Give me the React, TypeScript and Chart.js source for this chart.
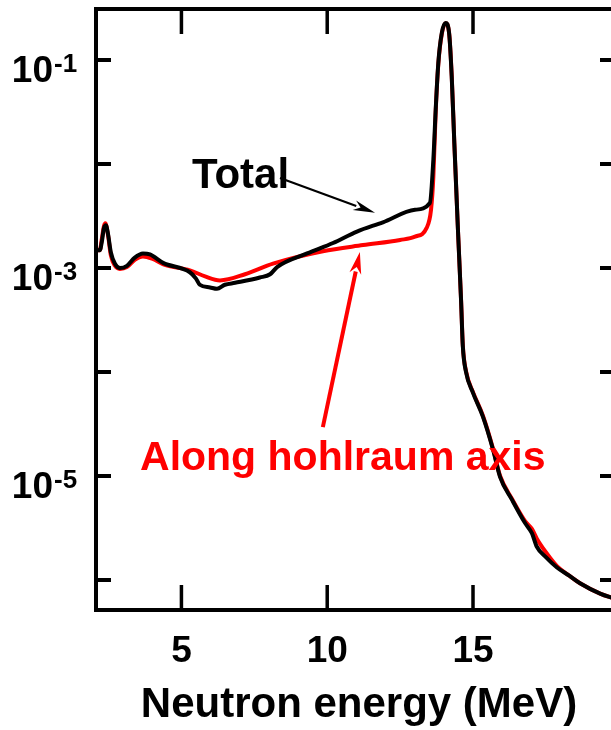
import React, { useEffect, useRef } from "react";
import { Chart, registerables } from "chart.js";

Chart.register(...registerables);

// Neutron energy (MeV) and spectrum values
const energyTotal = [
  2.07, 2.2, 2.27, 2.34, 2.41, 2.48, 2.58, 2.72, 2.89, 3.13, 3.4, 3.68, 3.92, 4.37,
  5.29, 5.5, 5.63, 5.98, 6.22, 6.49, 6.84, 7.69, 8.04, 8.28, 9.31, 10.2, 11.02, 11.91,
  13.01, 13.52, 13.64, 13.72, 13.81, 13.93, 14.06, 14.18, 14.27, 14.36, 14.48, 14.59,
  14.65, 14.76, 15.0, 15.34, 15.69, 15.93, 16.34, 16.78, 17.02, 17.19, 17.5, 17.88, 18.3,
  18.67, 19.36, 19.87,
];
const fluxTotal = [
  1.48e-3, 1.48e-3, 1.78e-3, 2.4e-3, 2.57e-3, 2.14e-3, 1.41e-3, 1.1e-3, 1.0e-3, 1.05e-3,
  1.26e-3, 1.38e-3, 1.35e-3, 1.12e-3, 9.1e-4, 7.9e-4, 6.9e-4, 6.5e-4, 6.3e-4, 6.9e-4,
  7.2e-4, 8.1e-4, 8.7e-4, 1.02e-3, 1.38e-3, 1.74e-3, 2.24e-3, 2.75e-3, 3.63e-3, 4.22e-3,
  1.1e-2, 3.31e-2, 9.33e-2, 0.182, 0.227, 0.182, 6.92e-2, 1.58e-2, 2.45e-3, 4.9e-4,
  1.78e-4, 1.0e-4, 6.3e-5, 3.72e-5, 1.78e-5, 9.77e-6, 5.89e-6, 3.55e-6, 2.82e-6, 2.09e-6,
  1.66e-6, 1.32e-6, 1.1e-6, 9.3e-7, 7.4e-7, 6.6e-7,
];

const energyAxis = [
  2.07, 2.2, 2.27, 2.34, 2.39, 2.48, 2.58, 2.72, 2.89, 3.13, 3.4, 3.68, 3.99, 4.43, 5.29,
  5.81, 6.32, 7.18, 8.14, 9.85, 11.23, 12.5, 13.01, 13.41, 13.56, 13.64, 13.72, 13.81,
  13.93, 14.06, 14.18, 14.27, 14.36, 14.48, 14.59, 14.65, 14.76, 15.0, 15.34, 15.69, 15.93,
  16.34, 16.78, 17.02, 17.19, 17.5, 17.88, 18.3, 18.67, 19.36, 19.87,
];
const fluxAxis = [
  1.48e-3, 1.48e-3, 1.91e-3, 2.51e-3, 2.69e-3, 2.09e-3, 1.32e-3, 1.05e-3, 9.8e-4, 1.02e-3,
  1.2e-3, 1.29e-3, 1.23e-3, 1.07e-3, 9.5e-4, 8.3e-4, 7.6e-4, 8.7e-4, 1.1e-3, 1.45e-3,
  1.66e-3, 1.86e-3, 2.0e-3, 2.43e-3, 3.63e-3, 7.5e-3, 3.16e-2, 9.1e-2, 0.178, 0.226,
  0.182, 7.08e-2, 1.58e-2, 2.45e-3, 5.0e-4, 1.82e-4, 1.02e-4, 6.4e-5, 3.8e-5, 1.82e-5,
  1.0e-5, 6.0e-6, 3.7e-6, 3.1e-6, 2.5e-6, 1.85e-6, 1.36e-6, 1.1e-6, 9.3e-7, 7.4e-7, 6.6e-7,
];

const xTickValues = [5, 10, 15];
const xTickLabels = ["5", "10", "15"];
const yTickValues = [1e-1, 1e-2, 1e-3, 1e-4, 1e-5, 1e-6];
const yLabelValues = [1e-1, 1e-3, 1e-5];
const yLabelExponents = ["-1", "-3", "-5"];

const xTitle = "Neutron energy (MeV)";
const totalLabel = "Total";
const axisLabel = "Along hohlraum axis";

const FONT = "'Liberation Sans', Arial, Helvetica, sans-serif";

function arrow(
  ctx: CanvasRenderingContext2D,
  x0: number, y0: number, x1: number, y1: number,
  color: string, width: number, headLen: number, headHalf: number
) {
  const ang = Math.atan2(y1 - y0, x1 - x0);
  const bx = x1 - headLen * Math.cos(ang);
  const by = y1 - headLen * Math.sin(ang);
  ctx.save();
  ctx.strokeStyle = color;
  ctx.fillStyle = color;
  ctx.lineWidth = width;
  ctx.lineCap = "butt";
  ctx.beginPath();
  ctx.moveTo(x0, y0);
  ctx.lineTo(bx + 2 * Math.cos(ang), by + 2 * Math.sin(ang));
  ctx.stroke();
  ctx.beginPath();
  ctx.moveTo(x1, y1);
  ctx.lineTo(bx - headHalf * Math.sin(ang), by + headHalf * Math.cos(ang));
  ctx.lineTo(bx + 0.3 * headLen * Math.cos(ang), by + 0.3 * headLen * Math.sin(ang));
  ctx.lineTo(bx + headHalf * Math.sin(ang), by - headHalf * Math.cos(ang));
  ctx.closePath();
  ctx.fill();
  ctx.restore();
}

const framePlugin = {
  id: "framePlugin",
  afterDraw(chart: any) {
    const ctx: CanvasRenderingContext2D = chart.ctx;
    const { left, top, right, bottom } = chart.chartArea;
    const xs = chart.scales.x;
    const ys = chart.scales.y;
    ctx.save();
    ctx.strokeStyle = "#000";
    ctx.lineWidth = 4;
    ctx.strokeRect(left, top, right - left, bottom - top);

    // x ticks (bottom and top, inward)
    ctx.lineWidth = 3.5;
    xTickValues.forEach((v) => {
      const px = xs.getPixelForValue(v);
      ctx.beginPath();
      ctx.moveTo(px, bottom);
      ctx.lineTo(px, bottom - 25);
      ctx.moveTo(px, top);
      ctx.lineTo(px, top + 25);
      ctx.stroke();
    });
    // y ticks (left and right, inward)
    ctx.lineWidth = 4;
    yTickValues.forEach((v) => {
      const py = ys.getPixelForValue(v);
      ctx.beginPath();
      ctx.moveTo(left, py);
      ctx.lineTo(left + 15, py);
      ctx.moveTo(right, py);
      ctx.lineTo(right - 15, py);
      ctx.stroke();
    });

    // x tick labels
    ctx.fillStyle = "#000";
    ctx.font = `bold 37px ${FONT}`;
    ctx.textAlign = "center";
    ctx.textBaseline = "alphabetic";
    xTickValues.forEach((v, i) => {
      ctx.fillText(xTickLabels[i], xs.getPixelForValue(v), 662);
    });

    // y tick labels 10^n
    yLabelValues.forEach((v, i) => {
      const py = ys.getPixelForValue(v);
      ctx.font = `bold 37px ${FONT}`;
      ctx.textAlign = "right";
      ctx.fillText("10", 53, py + 22);
      ctx.font = `bold 26px ${FONT}`;
      ctx.textAlign = "left";
      ctx.fillText(yLabelExponents[i], 54, py + 12);
    });

    // axis title
    ctx.font = `bold 42px ${FONT}`;
    ctx.textAlign = "center";
    ctx.fillText(xTitle, 359, 717);

    // annotations
    ctx.font = `bold 42px ${FONT}`;
    ctx.textAlign = "left";
    ctx.fillStyle = "#000";
    ctx.fillText(totalLabel, xs.getPixelForValue(5.36), ys.getPixelForValue(Math.pow(10, -2.23)));
    ctx.font = `bold 41px ${FONT}`;
    ctx.fillStyle = "#ff0000";
    ctx.fillText(axisLabel, xs.getPixelForValue(3.58), ys.getPixelForValue(Math.pow(10, -4.94)));

    arrow(
      ctx,
      xs.getPixelForValue(8.38), ys.getPixelForValue(Math.pow(10, -2.135)),
      xs.getPixelForValue(11.64), ys.getPixelForValue(Math.pow(10, -2.47)),
      "#000", 2.2, 22, 5
    );
    arrow(
      ctx,
      xs.getPixelForValue(9.85), ys.getPixelForValue(Math.pow(10, -4.53)),
      xs.getPixelForValue(11.12), ys.getPixelForValue(Math.pow(10, -2.846)),
      "#ff0000", 4, 22, 6
    );
    ctx.restore();
  },
};

export default function App() {
  const canvasRef = useRef<HTMLCanvasElement | null>(null);

  useEffect(() => {
    if (!canvasRef.current) return;
    const chart = new Chart(canvasRef.current, {
      type: "line",
      data: {
        datasets: [
          {
            label: totalLabel,
            data: energyTotal.map((e, i) => ({ x: e, y: fluxTotal[i] })),
            borderColor: "#000000",
            borderWidth: 4,
            pointRadius: 0,
            fill: false,
            cubicInterpolationMode: "monotone",
            order: 1,
          },
          {
            label: axisLabel,
            data: energyAxis.map((e, i) => ({ x: e, y: fluxAxis[i] })),
            borderColor: "#ff0000",
            borderWidth: 4,
            pointRadius: 0,
            fill: false,
            cubicInterpolationMode: "monotone",
            order: 2,
          },
        ],
      },
      options: {
        responsive: false,
        animation: false,
        layout: { padding: { left: 96, top: 9, right: 5, bottom: 120 } },
        plugins: {
          legend: { display: false },
          tooltip: { enabled: false },
        },
        scales: {
          x: { type: "linear", min: 2.07, max: 19.87, display: false },
          y: { type: "logarithmic", min: 5.15e-7, max: 0.309, display: false },
        },
      },
      plugins: [framePlugin],
    } as any);
    return () => chart.destroy();
  }, []);

  return (
    <div
      style={{
        position: "absolute",
        left: 0,
        top: 0,
        width: 611,
        height: 730,
        overflow: "hidden",
        background: "#fff",
      }}
    >
      <canvas ref={canvasRef} width={620} height={730} style={{ display: "block" }} />
    </div>
  );
}
